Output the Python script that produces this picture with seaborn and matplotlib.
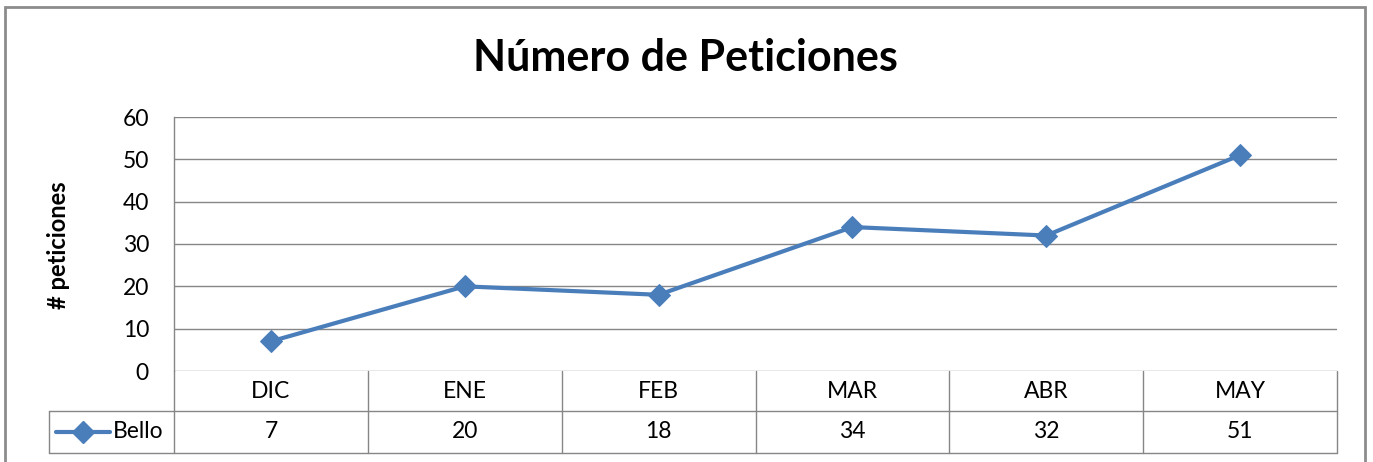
import numpy as np
import pandas as pd
import matplotlib
matplotlib.use("Agg")
import matplotlib.pyplot as plt
import seaborn as sns
from matplotlib.patches import Rectangle
from matplotlib.lines import Line2D

meses = ['DIC', 'ENE', 'FEB', 'MAR', 'ABR', 'MAY']
bello = [7, 20, 18, 34, 32, 51]
serie = 'Bello'
titulo = 'Número de Peticiones'
ylabel = '# peticiones'

sns.set_style('white')
plt.rcParams['font.family'] = ['Lato', 'DejaVu Sans']
plt.rcParams['text.color'] = 'black'

W, H = 1373, 462
fig = plt.figure(figsize=(W / 100, H / 100), dpi=100)

def fx(px):
    return px / W

def fy(py):
    return 1 - py / H

# pixel layout of the plot area
x0, x1 = 174, 1337
y_top, y_bot = 117, 371
ax = fig.add_axes([fx(x0), fy(y_bot), fx(x1) - fx(x0), fy(y_top) - fy(y_bot)])

df = pd.DataFrame({'pos': np.arange(len(meses)), 'valor': bello})
color = '#4A7EBB'
grid = '#868686'
fs = 16.5
sns.lineplot(data=df, x='pos', y='valor', ax=ax, color=color, lw=3,
             marker='D', markersize=11, markeredgecolor=color)

ax.set_xlim(-0.5, len(meses) - 0.5)
ax.set_ylim(0, 60)
ax.set_yticks(range(0, 61, 10))
ax.tick_params(axis='y', labelsize=fs, colors='black', pad=18, length=0)
ax.set_xticks([])
ax.set_xlabel('')
ax.set_ylabel('')
for s in ['top', 'right', 'bottom']:
    ax.spines[s].set_visible(False)
ax.spines['left'].set_color(grid)
ax.spines['left'].set_linewidth(1)
for v in range(0, 61, 10):
    ax.axhline(v, color=grid, lw=1, zorder=0)

# data table below the axes
r1, r2, r3 = 371, 411, 453
leg_left = 49
cell_w = (x1 - x0) / len(meses)
lk = dict(color=grid, lw=1)
fig.add_artist(Line2D([fx(leg_left), fx(x1)], [fy(r2), fy(r2)], **lk))
fig.add_artist(Line2D([fx(leg_left), fx(x1)], [fy(r3), fy(r3)], **lk))
fig.add_artist(Line2D([fx(leg_left), fx(leg_left)], [fy(r2), fy(r3)], **lk))
for i in range(len(meses) + 1):
    xp = x0 + i * cell_w
    fig.add_artist(Line2D([fx(xp), fx(xp)], [fy(r1), fy(r3)], **lk))
for i, (m, v) in enumerate(zip(meses, bello)):
    xc = x0 + (i + 0.5) * cell_w
    fig.text(fx(xc), fy((r1 + r2) / 2), m, ha='center', va='center', fontsize=fs)
    fig.text(fx(xc), fy((r2 + r3) / 2), str(v), ha='center', va='center', fontsize=fs)

# legend key inside the first table cell
ym = fy((r2 + r3) / 2)
fig.add_artist(Line2D([fx(56), fx(110)], [ym, ym], color=color, lw=3))
fig.add_artist(Line2D([fx(83)], [ym], color=color, marker='D', markersize=11, lw=0))
fig.text(fx(113), ym, serie, ha='left', va='center', fontsize=fs)

fig.text(fx(685), fy(58), titulo, ha='center', va='center', fontsize=31, fontweight='bold')
fig.text(fx(58), fy(245), ylabel, ha='center', va='center', fontsize=17, fontweight='bold', rotation=90)

# outer chart border
fig.add_artist(Rectangle((fx(5), fy(470)), fx(1365) - fx(5), fy(7) - fy(470),
                         fill=False, edgecolor='#8c8c8c', lw=2, transform=fig.transFigure))

fig.savefig('out.png', dpi=100)
